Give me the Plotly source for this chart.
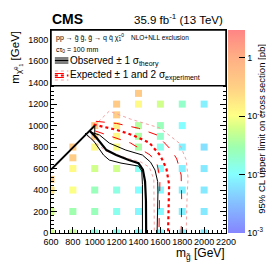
import numpy as np
import plotly.graph_objects as go

# ---------------- data ----------------
# grid points (gluino mass, neutralino mass) and 95% CL upper limit [pb]
pts_mg = [600, 600, 600, 600,
          800, 800, 800, 800, 800, 800,
          1000, 1000, 1000, 1000, 1000, 1000, 1000,
          1200, 1200, 1200, 1200, 1200, 1200, 1200, 1200, 1200,
          1400, 1400, 1400, 1400, 1400, 1400, 1400, 1400, 1400,
          1600, 1600, 1600, 1600, 1600, 1600, 1600, 1600,
          1800, 1800, 1800, 1800, 1800, 1800, 1800,
          2000, 2000, 2000, 2000, 2000, 2000]
pts_mchi = [500, 400, 200, 0,
            800, 700, 600, 400, 200, 0,
            1000, 900, 800, 600, 400, 200, 0,
            1200, 1100, 1000, 900, 800, 600, 400, 200, 0,
            1300, 1200, 1000, 900, 800, 600, 400, 200, 0,
            1200, 1000, 900, 800, 600, 400, 200, 0,
            1200, 1000, 800, 600, 400, 200, 0,
            1200, 800, 600, 400, 200, 0]
pts_limit = [0.4, 0.2, 0.06, 0.06,
             0.4, 0.35, 0.12, 0.1, 0.03, 0.05,
             0.4, 0.35, 0.12, 0.06, 0.025, 0.025, 0.015,
             0.4, 0.35, 0.15, 0.12, 0.1, 0.06, 0.015, 0.013, 0.013,
             0.4, 0.12, 0.04, 0.035, 0.035, 0.012, 0.01, 0.009, 0.01,
             0.06, 0.025, 0.02, 0.013, 0.01, 0.009, 0.009, 0.009,
             0.02, 0.01, 0.008, 0.008, 0.008, 0.008, 0.008,
             0.008, 0.006, 0.007, 0.007, 0.007, 0.007]

# kinematic diagonal
diag_mg = [600, 1000]
diag_mchi = [590, 1000]
step_mg = [1000, 1000]
step_mchi = [1000, 890]

# observed contour and +-1 sigma theory
obs_mg = [955, 1018, 1107, 1196, 1311, 1400, 1440, 1460, 1468, 1470]
obs_mchi = [950, 884, 772, 726, 679, 651, 590, 480, 300, 0]
obs_up_mg = [975, 1044, 1133, 1284, 1436, 1510, 1551, 1575, 1578, 1570]
obs_up_mchi = [935, 912, 837, 772, 726, 660, 586, 480, 391, 0]
obs_dn_mg = [911, 991, 1080, 1133, 1240, 1400, 1430, 1436, 1436]
obs_dn_mchi = [930, 856, 726, 679, 651, 623, 577, 450, 0]

# expected contour and +-1, +-2 sigma experiment
exp_mg = [990, 1200, 1350, 1500, 1600, 1655, 1680, 1678, 1670]
exp_mchi = [1010, 960, 910, 840, 720, 600, 450, 200, 0]
exp_p1_mg = [1010, 1200, 1400, 1570, 1700, 1750, 1790, 1795, 1790]
exp_p1_mchi = [1040, 1020, 975, 912, 772, 690, 540, 300, 0]
exp_m1_mg = [1005, 1150, 1329, 1507, 1570, 1596, 1592, 1587]
exp_m1_mchi = [950, 900, 837, 726, 640, 512, 300, 0]
exp_p2_mg = [955, 1133, 1329, 1462, 1596, 1773, 1836, 1853, 1844, 1836]
exp_p2_mchi = [958, 1135, 1060, 1020, 977, 837, 680, 512, 326, 0]
exp_m2_mg = [930, 1000, 1100, 1300, 1420, 1500, 1540, 1545]
exp_m2_mchi = [905, 850, 765, 695, 662, 612, 500, 0]

x_ticks = [600, 800, 1000, 1200, 1400, 1600, 1800, 2000, 2200]
y_ticks = [0, 200, 400, 600, 800, 1000, 1200, 1400, 1600, 1800]
cb_tickvals = [-3, -2, -1, 0]
cb_ticktext = ["10<sup>-3</sup>", "10<sup>-2</sup>", "10<sup>-1</sup>", "1"]

# ---------------- figure ----------------
FONT = "Liberation Sans, Arial, sans-serif"
colorscale = [
    [0.00, "#8585ff"],
    [0.15, "#85c0ff"],
    [0.29, "#85ffff"],
    [0.42, "#9dffb0"],
    [0.52, "#d5ff88"],
    [0.58, "#ffff85"],
    [0.72, "#ffd085"],
    [0.86, "#ffb085"],
    [1.00, "#ff8585"],
]
CMIN, CMAX = -3, np.log10(3.0)

fig = go.Figure()

fig.add_trace(go.Scatter(
    x=pts_mg, y=pts_mchi, mode="markers",
    marker=dict(symbol="square", size=7, line=dict(width=0),
                color=np.log10(pts_limit), colorscale=colorscale,
                cmin=CMIN, cmax=CMAX, showscale=True,
                colorbar=dict(
                    x=1.012, xanchor="left", xpad=0, y=0.5, yanchor="middle",
                    len=1, lenmode="fraction", ypad=0,
                    thickness=17, outlinewidth=0,
                    tickvals=cb_tickvals, ticktext=cb_ticktext,
                    ticks="inside", ticklen=6, tickcolor="black",
                    tickfont=dict(family=FONT, size=9, color="black"),
                )),
    hoverinfo="skip", showlegend=False))

def line(x, y, color, width, dash="solid"):
    fig.add_trace(go.Scatter(x=x, y=y, mode="lines",
                             line=dict(color=color, width=width, dash=dash),
                             hoverinfo="skip", showlegend=False))

PINK = "#f7a0a0"
RED = "#ff0000"
line(exp_p2_mg, exp_p2_mchi, PINK, 1, "dot")
line(exp_m2_mg, exp_m2_mchi, PINK, 1, "dot")
line(exp_p1_mg, exp_p1_mchi, RED, 1, "dash")
line(exp_m1_mg, exp_m1_mchi, RED, 1, "dash")
line(exp_mg, exp_mchi, RED, 2.2, "dot")
line(obs_up_mg, obs_up_mchi, "black", 1)
line(obs_dn_mg, obs_dn_mchi, "black", 1)
line(obs_mg, obs_mchi, "black", 2.2)
line(step_mg, step_mchi, "black", 1)
line(diag_mg, diag_mchi, "black", 2)

axis_common = dict(
    showgrid=False, zeroline=False, showline=True, linecolor="black",
    linewidth=1, mirror="allticks", ticks="inside", ticklen=6,
    tickcolor="black", tickwidth=1, tickangle=0,
    tickfont=dict(family=FONT, size=9, color="black"),
    minor=dict(ticks="inside", ticklen=3, dtick=40, tickcolor="black"),
)
fig.update_xaxes(range=[600, 2200], tickvals=x_ticks, **axis_common)
fig.update_yaxes(range=[0, 1890], tickvals=y_ticks, **axis_common)

# legend box
fig.add_shape(type="rect", xref="paper", yref="paper",
              x0=0, x1=1, y0=0.725, y1=1,
              fillcolor="white", line=dict(color="black", width=1.5), layer="above")

def pxy(px, py):
    # pixel -> paper coords
    return (px - 43) / 181.0, (225 - py) / 203.0

# legend samples
for (py, w) in [(50, 1), (52.5, 2), (55, 1)]:
    x0, y0 = pxy(47, py)
    x1, _ = pxy(61, py)
    fig.add_shape(type="line", xref="paper", yref="paper", x0=x0, x1=x1,
                  y0=y0, y1=y0, line=dict(color="black", width=w), layer="above")
for (py, w, c, d) in [(63, 1, PINK, "dot"), (65.5, 1, RED, "dash"),
                      (67.5, 2, RED, "dot"), (69.5, 1, RED, "dash"),
                      (72, 1, PINK, "dot")]:
    x0, y0 = pxy(47, py)
    x1, _ = pxy(61, py)
    fig.add_shape(type="line", xref="paper", yref="paper", x0=x0, x1=x1,
                  y0=y0, y1=y0, line=dict(color=c, width=w, dash=d), layer="above")

def ann(px, py, text, size, xanchor="left", yanchor="middle", angle=0):
    x, y = pxy(px, py)
    fig.add_annotation(x=x, y=y, xref="paper", yref="paper", text=text,
                       showarrow=False, xanchor=xanchor, yanchor=yanchor,
                       textangle=angle, borderpad=0,
                       font=dict(family=FONT, size=size, color="black"))

ann(47, 30, "pp → g̃ g̃, g̃ → q q̄ χ̃<sub>1</sub><sup>0</sup>", 7)
ann(125, 30, "NLO+NLL exclusion", 6.5)
ann(47, 42, "cτ<sub>0</sub> = 100 mm", 7)
ann(62, 53, "Observed ± 1 σ<sub>theory</sub>", 10)
ann(62, 68, "Expected ± 1 and 2 σ<sub>experiment</sub>", 10)

# header
ann(43, 11, "<b>CMS</b>", 14)
ann(222, 11, "35.9 fb<sup>-1</sup> (13 TeV)", 11.5, xanchor="right")

# axis titles
ann(224, 246, "m<sub>g̃</sub> [GeV]", 12, xanchor="right")
ann(7, 22, "m<sub>χ̃<sup>0</sup><sub>1</sub></sub> [GeV]", 11.5, xanchor="center", yanchor="top", angle=-90)
ann(261, 121, "95% CL upper limit on cross section [pb]", 9.5, xanchor="center", angle=-90)

fig.update_layout(
    width=274, height=263,
    margin=dict(l=43, r=50, t=22, b=38, pad=0),
    paper_bgcolor="white", plot_bgcolor="white",
    showlegend=False,
)

fig.write_html("out.html")
